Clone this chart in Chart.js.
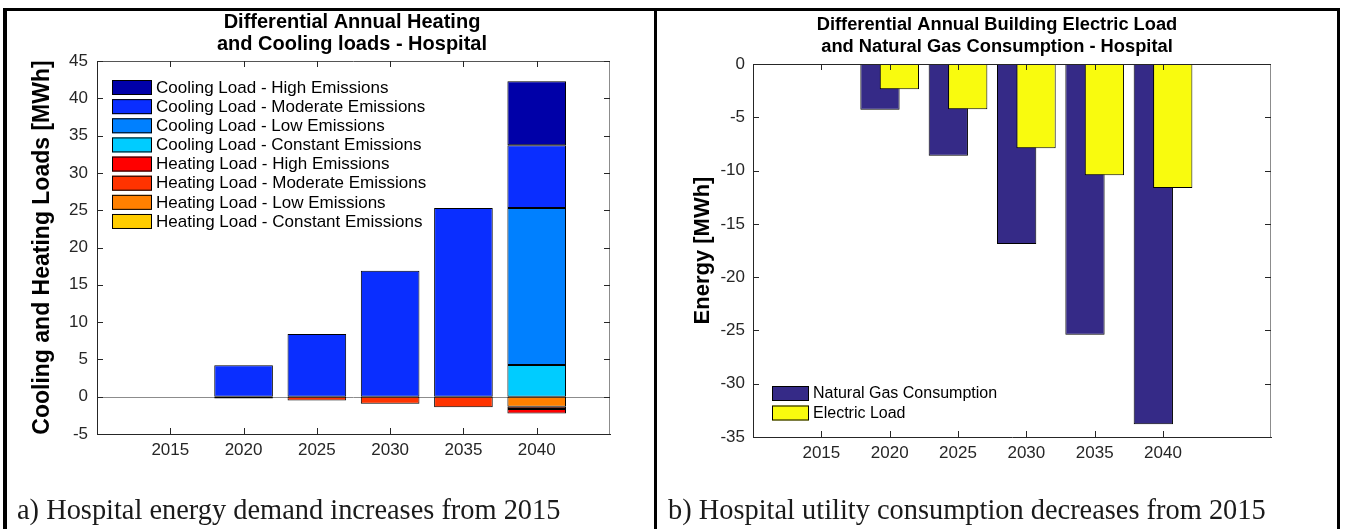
<!DOCTYPE html>
<html><head><meta charset="utf-8">
<script src="https://cdn.jsdelivr.net/npm/chart.js@4.4.1/dist/chart.umd.min.js"></script>
<style>
html,body{margin:0;padding:0;background:#fff;}
#wrap{position:relative;width:1345px;height:529px;overflow:hidden;background:#fff;}
.line{position:absolute;background:#000;}
.cv{position:absolute;}
.cap{position:absolute;font-family:"Liberation Serif","Times New Roman",serif;font-size:28.4px;line-height:28px;color:#1a1a1a;white-space:nowrap;}
</style></head>
<body><div id="wrap">
<div class="cv" style="left:7px;top:11px;width:647px;height:518px;"><canvas id="c1"></canvas></div>
<div class="cv" style="left:657px;top:11px;width:680px;height:518px;"><canvas id="c2"></canvas></div>
<div class="line" style="left:3px;top:8px;width:1337px;height:3px;"></div>
<div class="line" style="left:3px;top:8px;width:4px;height:521px;"></div>
<div class="line" style="left:654px;top:8px;width:3px;height:521px;"></div>
<div class="line" style="left:1337px;top:8px;width:3px;height:521px;"></div>
<div class="cap" style="left:17px;top:496px;">a) Hospital energy demand increases from 2015</div>
<div class="cap" style="left:668px;top:496px;">b) Hospital utility consumption decreases from 2015</div>
</div>
<script>
// ---------- data ----------
const years = [2015, 2020, 2025, 2030, 2035, 2040];
const xTickLabels = ['2015', '2020', '2025', '2030', '2035', '2040'];

// Panel a: differential annual heating / cooling loads [MWh]
const coolingHigh     = [0, 0,     0,    0,     0,    8.6];
const coolingModerate = [0, 4.2,   8.4,  16.9,  25.3, 8.4];
const coolingLow      = [0, 0,     0,    0,     0,    21.05];
const coolingConstant = [0, 0,     0,    0,     0,    4.25];
const heatingHigh     = [0, 0,     0,    0,     0,    -0.6];
const heatingModerate = [0, -0.25, -0.5, -0.95, -1.4, -0.3];
const heatingLow      = [0, 0,     0,    0,     0,    -1.35];
const heatingConstant = [0, 0,     0,    0,     0,    0];
const yTicksA = [-5, 0, 5, 10, 15, 20, 25, 30, 35, 40, 45];

// Panel b: differential electric load / natural gas [MWh]
const naturalGas   = [0, -4.3, -8.6, -16.9, -25.4, -33.8];
const electricLoad = [0, -2.38, -4.25, -7.91, -10.44, -11.63];
const yTicksB = [0, -5, -10, -15, -20, -25, -30, -35];

// ---------- helpers ----------
const FONT = '"Liberation Sans", Arial, Helvetica, sans-serif';
const AX = '#262626';
const pts = (arr) => years.map((yr, i) => ({x: yr, y: arr[i]}));

function decor(cfg) {
  return {
    id: 'decor',
    beforeDatasetsDraw(chart) {
      if (!cfg.baseline) return;
      const {ctx, chartArea: a, scales} = chart;
      const y = Math.round(scales.y.getPixelForValue(0)) + 0.5;
      ctx.save();
      ctx.strokeStyle = '#8c8c8c'; ctx.lineWidth = 1;
      ctx.beginPath(); ctx.moveTo(a.left, y); ctx.lineTo(a.right, y); ctx.stroke();
      ctx.restore();
    },
    afterDraw(chart) {
      const {ctx, chartArea: a, scales} = chart;
      ctx.save();
      ctx.lineWidth = 1;
      ctx.strokeStyle = cfg.topColor;
      ctx.beginPath(); ctx.moveTo(a.left, a.top + 0.5); ctx.lineTo(a.right, a.top + 0.5); ctx.stroke();
      ctx.strokeStyle = '#8c8c8c';
      ctx.beginPath(); ctx.moveTo(a.right - 0.5, a.top); ctx.lineTo(a.right - 0.5, a.bottom); ctx.stroke();
      ctx.strokeStyle = AX;
      const tl = 6;
      years.forEach(yr => {
        const x = Math.round(scales.x.getPixelForValue(yr)) + 0.5;
        ctx.beginPath();
        ctx.moveTo(x, a.bottom); ctx.lineTo(x, a.bottom - tl);
        ctx.moveTo(x, a.top); ctx.lineTo(x, a.top + tl);
        ctx.stroke();
      });
      cfg.yTicks.forEach(v => {
        const y = Math.round(scales.y.getPixelForValue(v)) + 0.5;
        ctx.beginPath();
        ctx.moveTo(a.left, y); ctx.lineTo(a.left + tl, y);
        ctx.moveTo(a.right, y); ctx.lineTo(a.right - tl, y);
        ctx.stroke();
      });
      ctx.fillStyle = '#000';
      ctx.font = 'bold ' + cfg.titleFont + 'px ' + FONT;
      ctx.textAlign = 'center'; ctx.textBaseline = 'middle';
      cfg.title.forEach((t, i) => ctx.fillText(t, cfg.titleX, cfg.titleY + i * 22));
      ctx.save();
      ctx.translate(cfg.yTitleX, (a.top + a.bottom) / 2);
      ctx.rotate(-Math.PI / 2);
      ctx.font = 'bold ' + cfg.yTitleFont + 'px ' + FONT;
      ctx.fillStyle = '#000';
      ctx.fillText(cfg.yTitle, 0, 0);
      ctx.restore();
      ctx.font = cfg.legendFont + 'px ' + FONT;
      ctx.textAlign = 'left'; ctx.textBaseline = 'middle';
      cfg.legendOrder.forEach((di, i) => {
        const ds = chart.data.datasets[di];
        const top = cfg.legendY + i * cfg.legendStep;
        ctx.fillStyle = ds.backgroundColor;
        ctx.fillRect(cfg.legendX, top, cfg.legendW, cfg.legendH);
        ctx.strokeStyle = '#000';
        ctx.strokeRect(cfg.legendX + 0.5, top + 0.5, cfg.legendW - 1, cfg.legendH - 1);
        ctx.fillStyle = '#000';
        ctx.fillText(ds.label, cfg.legendX + cfg.legendW + 4, top + cfg.legendH / 2 + 0.5);
      });
      ctx.restore();
    }
  };
}

function barDs(label, arr, color, extra) {
  return Object.assign({
    label, data: pts(arr), backgroundColor: color,
    borderColor: '#000', borderWidth: 1, borderSkipped: false,
  }, extra || {});
}

const showYear = (v) => years.includes(v) ? String(v) : '';

// ---------- chart a ----------
new Chart(document.getElementById('c1'), {
  type: 'bar',
  data: {
    datasets: [
      barDs('Cooling Load - Constant Emissions', coolingConstant, '#00CCFF'),
      barDs('Cooling Load - Low Emissions',      coolingLow,      '#0080FF'),
      barDs('Cooling Load - Moderate Emissions', coolingModerate, '#0A2EFF'),
      barDs('Cooling Load - High Emissions',     coolingHigh,     '#0000A8'),
      barDs('Heating Load - Constant Emissions', heatingConstant, '#FFCC00'),
      barDs('Heating Load - Low Emissions',      heatingLow,      '#FF8000'),
      barDs('Heating Load - Moderate Emissions', heatingModerate, '#FF3300'),
      barDs('Heating Load - High Emissions',     heatingHigh,     '#FF0000'),
    ]
  },
  options: {
    responsive: true, maintainAspectRatio: false, animation: false, events: [],
    devicePixelRatio: 1,
    datasets: { bar: { barPercentage: 0.8, categoryPercentage: 1.0 } },
    layout: { padding: { top: 50, right: 44, left: 0, bottom: 0 } },
    plugins: { legend: { display: false }, title: { display: false }, tooltip: { enabled: false } },
    scales: {
      x: {
        type: 'linear', min: 2010, max: 2045, stacked: true, offset: false,
        grid: { display: false, drawTicks: false, offset: false },
        border: { display: true, color: AX, width: 1 },
        ticks: { stepSize: 5, autoSkip: false, maxRotation: 0, padding: 6, color: AX,
                 font: { family: FONT, size: 17 }, callback: showYear },
        afterFit: (s) => { s.height = 95; }
      },
      y: {
        type: 'linear', min: -5, max: 45, stacked: true,
        grid: { display: false, drawTicks: false },
        border: { display: true, color: AX, width: 1 },
        ticks: { stepSize: 5, padding: 9, color: AX, font: { family: FONT, size: 17 } },
        afterFit: (s) => { s.width = 90; }
      }
    }
  },
  plugins: [decor({
    baseline: true, topColor: '#555', yTicks: yTicksA,
    title: ['Differential Annual Heating', 'and Cooling loads - Hospital'],
    titleX: 345, titleY: 11, titleFont: 20,
    yTitle: 'Cooling and Heating Loads [MWh]', yTitleX: 36, yTitleFont: 23,
    legendOrder: [3, 2, 1, 0, 7, 6, 5, 4],
    legendX: 105, legendY: 69, legendStep: 19.14, legendW: 40, legendH: 15, legendFont: 17
  })]
});

// ---------- chart b ----------
const SH = 0.71; // group offset in years
const XMAX_B = 2047.9;
const hiddenX = (sh) => ({ type: 'linear', display: false, offset: false, grid: { offset: false },
                            min: 2010 + sh, max: XMAX_B + sh, ticks: { stepSize: 50 } });
new Chart(document.getElementById('c2'), {
  type: 'bar',
  data: {
    datasets: [
      barDs('Natural Gas Consumption', naturalGas, '#352A87', { xAxisID: 'xGas', order: 2 }),
      barDs('Electric Load', electricLoad, '#F9FB0E', { xAxisID: 'xEl', order: 1 }),
    ]
  },
  options: {
    responsive: true, maintainAspectRatio: false, animation: false, events: [],
    devicePixelRatio: 1,
    datasets: { bar: { barPercentage: 0.575, categoryPercentage: 1.0, grouped: false } },
    layout: { padding: { top: 53, right: 66, left: 0, bottom: 0 } },
    plugins: { legend: { display: false }, title: { display: false }, tooltip: { enabled: false } },
    scales: {
      x: {
        type: 'linear', min: 2010, max: XMAX_B, position: 'bottom', offset: false,
        grid: { display: false, drawTicks: false, offset: false },
        border: { display: true, color: AX, width: 1 },
        ticks: { stepSize: 5, autoSkip: false, maxRotation: 0, padding: 6, color: AX,
                 font: { family: FONT, size: 17 }, callback: showYear },
        afterFit: (s) => { s.height = 92; }
      },
      xGas: hiddenX(SH),
      xEl: hiddenX(-SH),
      y: {
        type: 'linear', min: -35, max: 0,
        grid: { display: false, drawTicks: false },
        border: { display: true, color: AX, width: 1 },
        ticks: { stepSize: 5, padding: 8, color: AX, font: { family: FONT, size: 17 } },
        afterFit: (s) => { s.width = 96; }
      }
    }
  },
  plugins: [decor({
    baseline: false, topColor: AX, yTicks: yTicksB,
    title: ['Differential Annual Building Electric Load', 'and Natural Gas Consumption - Hospital'],
    titleX: 340, titleY: 14, titleFont: 18.3,
    yTitle: 'Energy [MWh]', yTitleX: 46, yTitleFont: 22,
    legendOrder: [0, 1],
    legendX: 115, legendY: 375, legendStep: 19.5, legendW: 37, legendH: 15, legendFont: 16
  })]
});
</script>
</body></html>
